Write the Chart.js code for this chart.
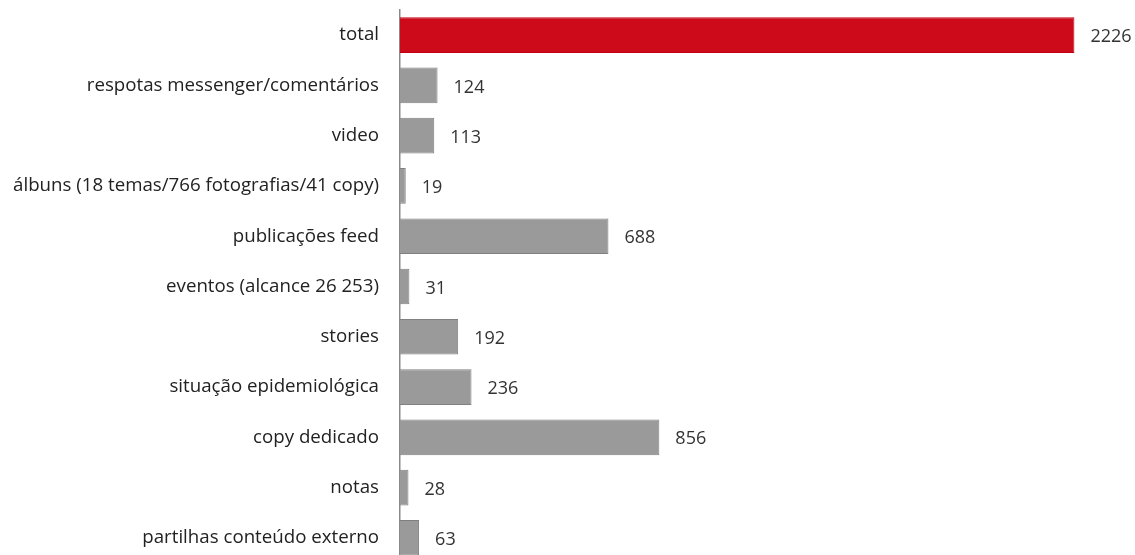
<!DOCTYPE html>
<html><head><meta charset="utf-8">
<script src="https://cdn.jsdelivr.net/npm/chart.js@4"></script>
<style>html,body{margin:0;padding:0;background:#fff;overflow:hidden}</style>
</head><body><canvas id="c" width="1135" height="575"></canvas>
<script>
const categories = ["total","respotas messenger/comentários","video","álbuns (18 temas/766 fotografias/41 copy)","publicações feed","eventos (alcance 26 253)","stories","situação epidemiológica","copy dedicado","notas","partilhas conteúdo externo"];
const values = [2226,124,113,19,688,31,192,236,856,28,63];
const barColors = ["#cc0a1a","#9a9a9a","#9a9a9a","#9a9a9a","#9a9a9a","#9a9a9a","#9a9a9a","#9a9a9a","#9a9a9a","#9a9a9a","#9a9a9a"];
const borderColors = ["#c00010","#808080","#808080","#808080","#808080","#808080","#808080","#808080","#808080","#808080","#808080"];

const valueLabels = {
  id:'valueLabels',
  afterDatasetsDraw(chart){
    const ctx = chart.ctx;
    const meta = chart.getDatasetMeta(0);
    ctx.save();
    ctx.font = '18px "Open Sans", sans-serif';
    ctx.fillStyle = '#333';
    ctx.textAlign = 'left';
    ctx.textBaseline = 'middle';
    meta.data.forEach((el,i)=>{
      ctx.fillText(String(values[i]), el.x + 16, el.y + 2);
    });
    ctx.restore();
  }
};

new Chart(document.getElementById('c'), {
  type:'bar',
  data:{labels:categories, datasets:[{data:values, backgroundColor:barColors, borderColor:borderColors, borderWidth:1, barPercentage:0.71, categoryPercentage:1}]},
  options:{
    indexAxis:'y', responsive:false, animation:false,
    layout:{padding:{left:0,right:0,top:10,bottom:12}},
    plugins:{legend:{display:false}, tooltip:{enabled:false}},
    scales:{
      x:{display:false, min:0, max:2426},
      y:{
        grid:{display:false, drawTicks:false},
        border:{display:true, color:'#8a8a8a', width:1.5},
        ticks:{color:'#222', padding:21, font:{family:'"Open Sans", sans-serif', size:18.7}},
        afterFit(scale){ scale.width = 400; scale.paddingTop = 0; scale.paddingBottom = 0; }
      }
    }
  },
  plugins:[valueLabels]
});
</script></body></html>
